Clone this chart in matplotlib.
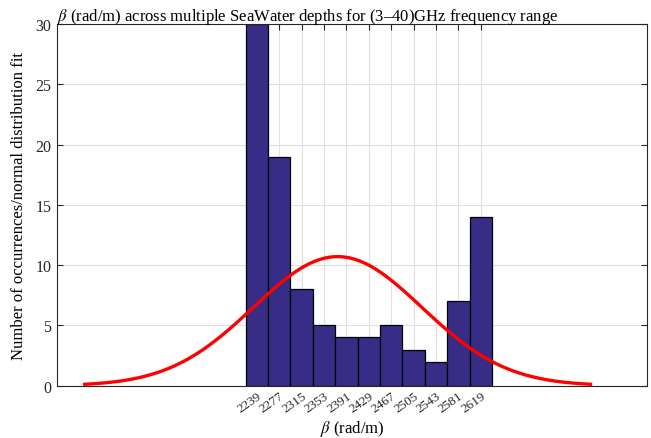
import numpy as np
import matplotlib
matplotlib.use("Agg")
import matplotlib.pyplot as plt
from matplotlib.transforms import ScaledTranslation

plt.rcParams['font.family'] = ['Liberation Serif', 'DejaVu Serif']
plt.rcParams['mathtext.fontset'] = 'stix'

# histogram bins (centres) and counts
beta_centres = [2239, 2277, 2315, 2353, 2391, 2429, 2467, 2505, 2543, 2581, 2619]
counts = [30, 19, 8, 5, 4, 4, 5, 3, 2, 7, 14]
bin_width = 38

# normal fit parameters
fit_mu = 2376
fit_sigma = 143

fig = plt.figure(figsize=(6.51, 4.39), dpi=100)
ax = fig.add_axes([57 / 651, 1 - 386.7 / 439, (646.5 - 57) / 651, (386.7 - 25) / 439])

ax.bar(beta_centres, counts, width=bin_width, color='#372C86',
       edgecolor='black', linewidth=0.9, zorder=2)

n = sum(counts)
xs = np.linspace(fit_mu - 3 * fit_sigma, fit_mu + 3 * fit_sigma, 100)
pdf = np.exp(-0.5 * ((xs - fit_mu) / fit_sigma) ** 2) / (fit_sigma * np.sqrt(2 * np.pi))
ax.plot(xs, n * bin_width * pdf, color='red', linewidth=2.4, zorder=3)

ax.set_xlim(1900, 2900)
ax.set_ylim(0, 30)
ax.set_xticks(beta_centres)
ax.set_xticklabels([str(b) for b in beta_centres], rotation=35,
                   ha='right', va='top', rotation_mode='anchor', fontsize=9.5)
shift = ScaledTranslation(8 / 100, 0, fig.dpi_scale_trans)
for lab in ax.get_xticklabels():
    lab.set_transform(lab.get_transform() + shift)
ax.set_yticks(range(0, 31, 5))
ax.tick_params(axis='y', labelsize=11.5)
ax.tick_params(direction='in', length=4, width=0.8, top=True, right=True,
               colors='#262626', pad=4)
ax.tick_params(axis='x', pad=3)
ax.grid(True, color='#e0e0e0', linewidth=0.8, zorder=0)
ax.set_axisbelow(True)
for s in ax.spines.values():
    s.set_color('#262626')
    s.set_linewidth(0.8)

ax.set_title(r'$\beta$ (rad/m) across multiple SeaWater depths for (3–40)GHz frequency range',
             fontsize=12, pad=3, loc='left')
ax.set_xlabel(r'$\beta$ (rad/m)', fontsize=12, labelpad=2)
ax.set_ylabel('Number of occurrences/normal distribution fit', fontsize=12, labelpad=6)

fig.savefig('out.png', dpi=100)
